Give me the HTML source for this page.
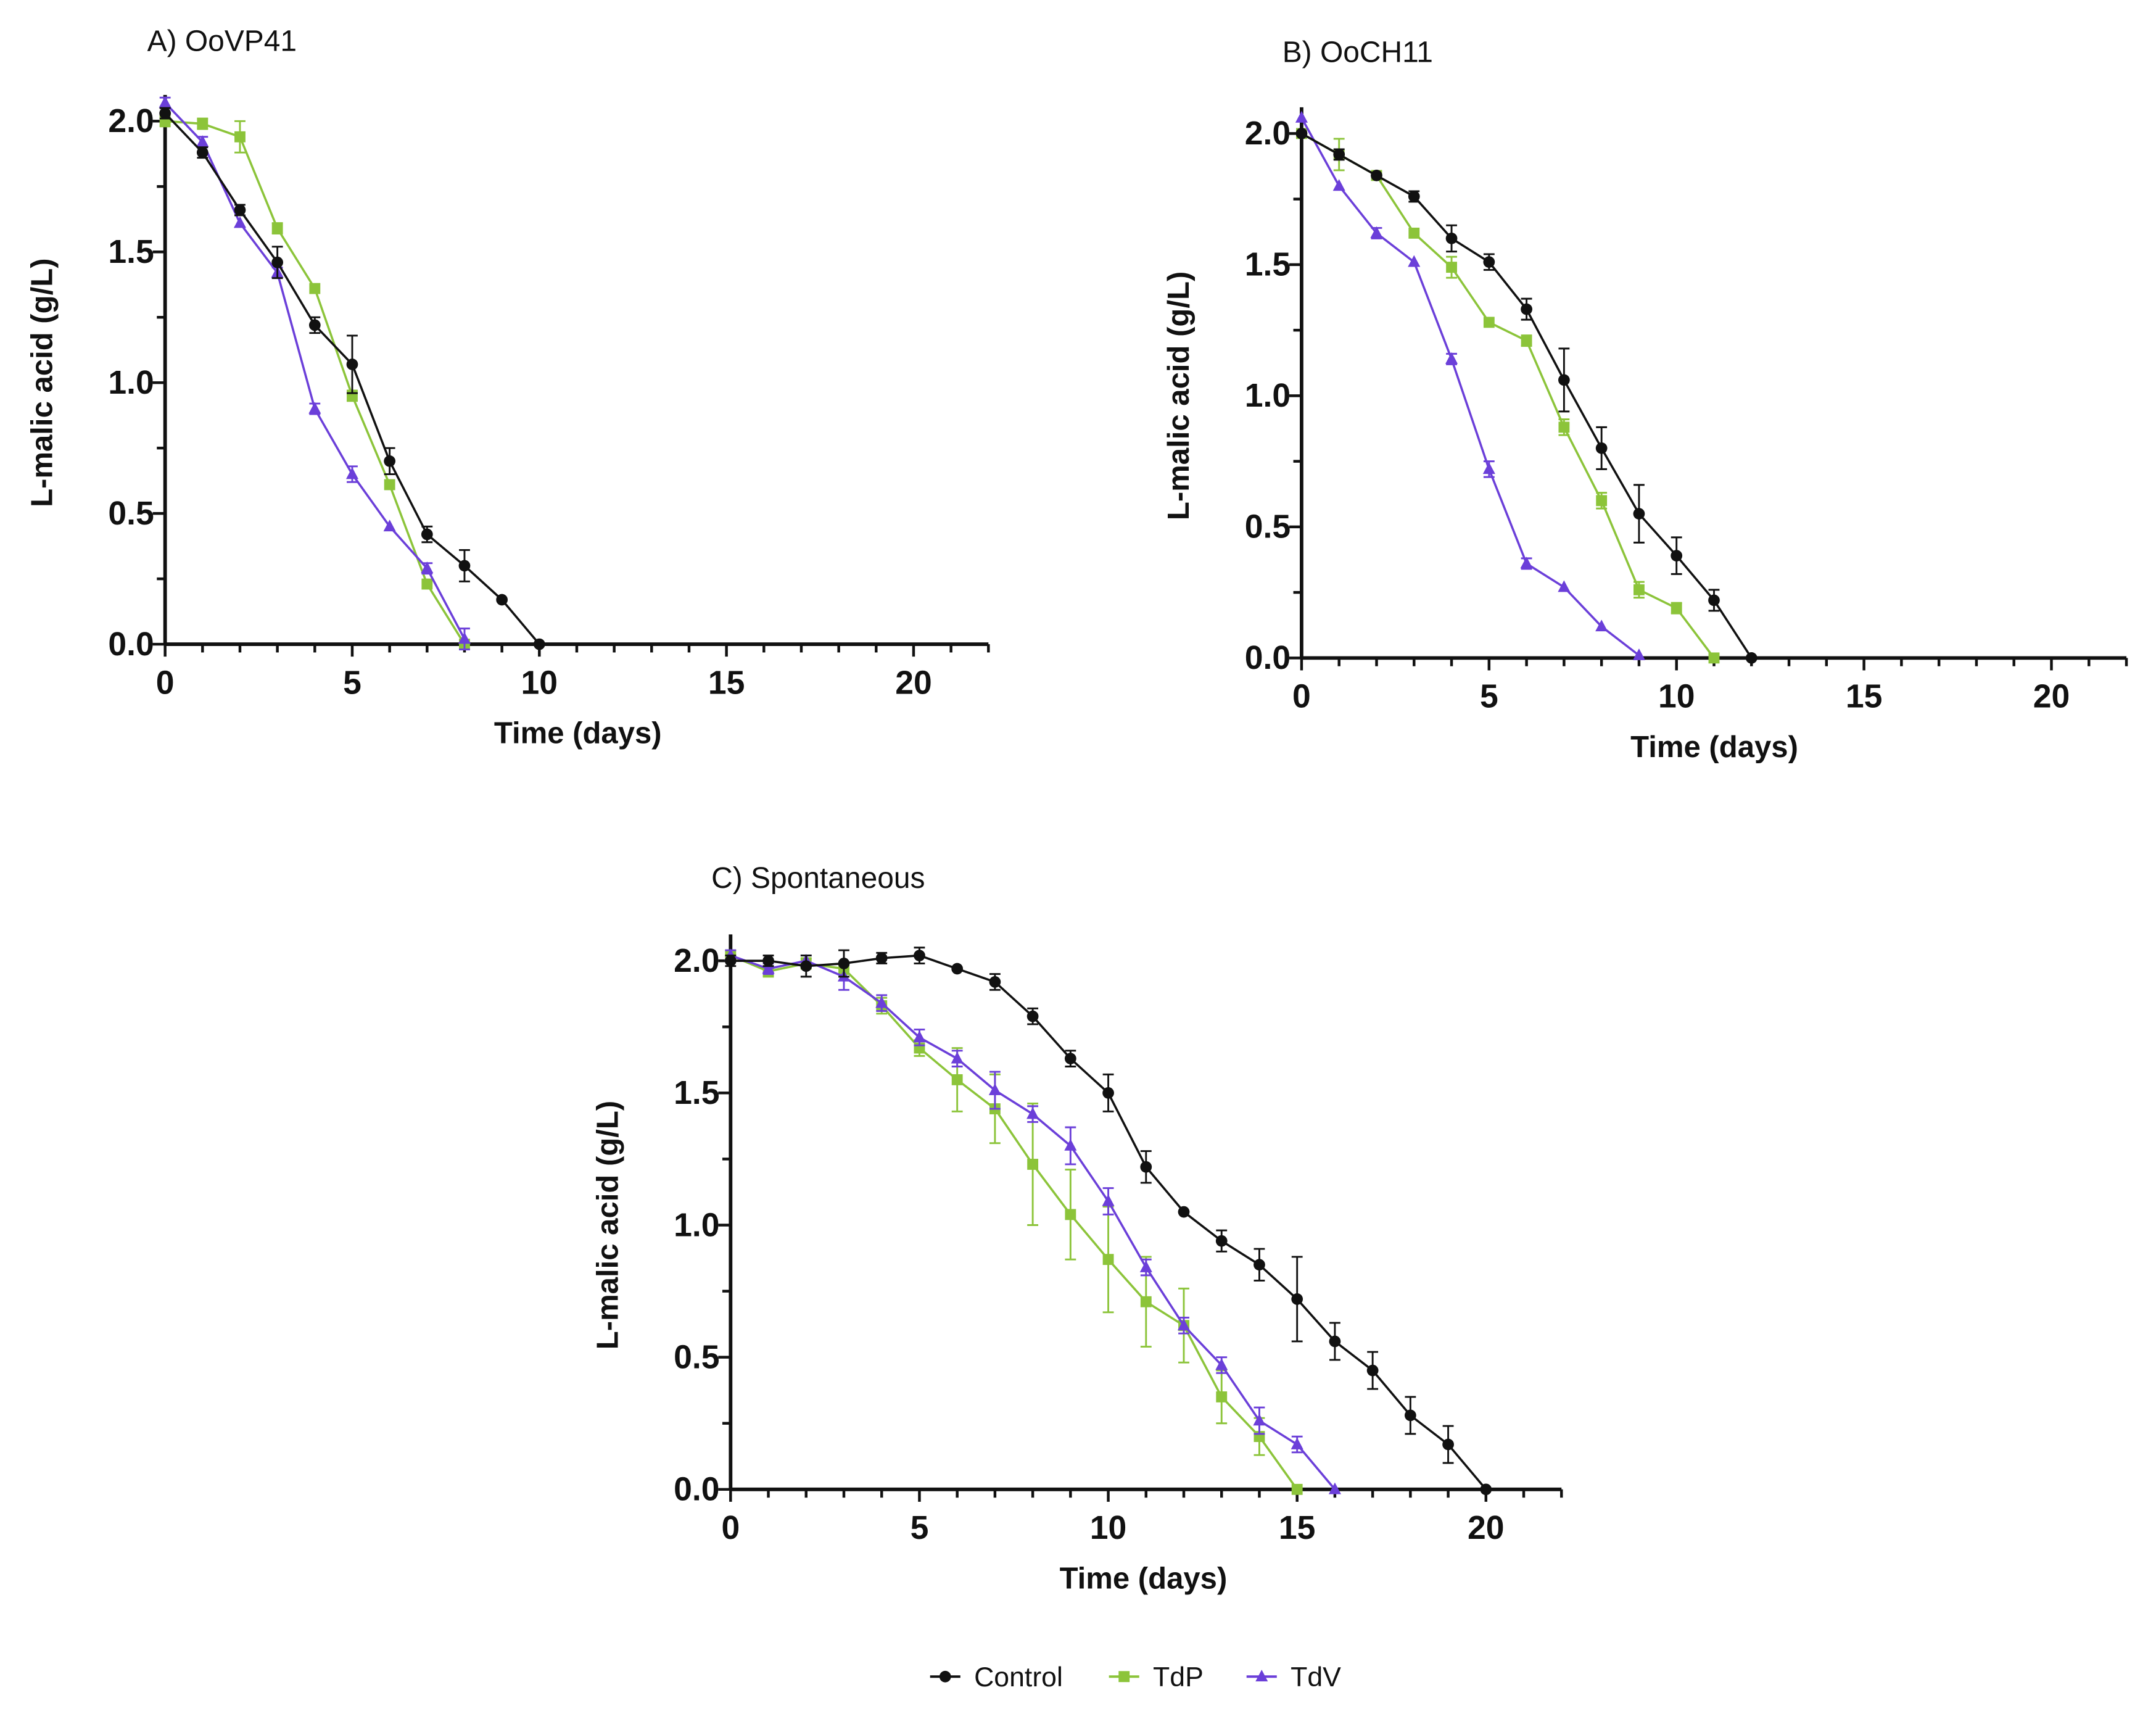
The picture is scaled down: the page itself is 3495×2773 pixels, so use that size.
<!DOCTYPE html>
<html><head><meta charset="utf-8"><style>
html,body{margin:0;padding:0;background:#fff}
svg{display:block}
text{font-family:"Liberation Sans",Arial,sans-serif}
</style></head><body>
<svg id="fig" width="3495" height="2773" viewBox="0 0 1567 1243" preserveAspectRatio="none" xmlns="http://www.w3.org/2000/svg"></svg>
<script>
// ---- data ----
const aControl=[2.03,1.88,1.66,1.46,1.22,1.07,0.70,0.42,0.30,0.17,0.00];
const aControlErr=[0.02,0.02,0.02,0.06,0.03,0.11,0.05,0.03,0.06,0.01,0];
const aTdP=[2.00,1.99,1.94,1.59,1.36,0.95,0.61,0.23,0.00];
const aTdPErr=[0.02,0.02,0.06,0.02,0.01,0.02,0.01,0.01,0];
const aTdV=[2.07,1.92,1.61,1.42,0.90,0.65,0.45,0.29,0.02];
const aTdVErr=[0.02,0.02,0.01,0.02,0.02,0.03,0.01,0.02,0.04];
const bControl=[2.00,1.92,1.84,1.76,1.60,1.51,1.33,1.06,0.80,0.55,0.39,0.22,0.00];
const bControlErr=[0.01,0.02,0.01,0.02,0.05,0.03,0.04,0.12,0.08,0.11,0.07,0.04,0];
const bTdP=[2.00,1.92,1.84,1.62,1.49,1.28,1.21,0.88,0.60,0.26,0.19,0.00];
const bTdPErr=[0.01,0.06,0.01,0.01,0.04,0.01,0.02,0.03,0.03,0.03,0.02,0];
const bTdV=[2.06,1.80,1.62,1.51,1.14,0.72,0.36,0.27,0.12,0.01];
const bTdVErr=[0.01,0.01,0.02,0.01,0.02,0.03,0.02,0.01,0.01,0.01];
const cControl=[2.00,2.00,1.98,1.99,2.01,2.02,1.97,1.92,1.79,1.63,1.50,1.22,1.05,0.94,0.85,0.72,0.56,0.45,0.28,0.17,0.00];
const cControlErr=[0.02,0.02,0.04,0.05,0.02,0.03,0.01,0.03,0.03,0.03,0.07,0.06,0.01,0.04,0.06,0.16,0.07,0.07,0.07,0.07,0];
const cTdP=[2.02,1.96,1.99,1.97,1.83,1.67,1.55,1.44,1.23,1.04,0.87,0.71,0.62,0.35,0.20,0.00];
const cTdPErr=[0.02,0.02,0.02,0.02,0.03,0.03,0.12,0.13,0.23,0.17,0.20,0.17,0.14,0.10,0.07,0];
const cTdV=[2.02,1.97,2.00,1.94,1.84,1.71,1.63,1.51,1.42,1.30,1.09,0.84,0.62,0.47,0.26,0.17,0.00];
const cTdVErr=[0.02,0.02,0.02,0.05,0.03,0.03,0.03,0.07,0.03,0.07,0.05,0.03,0.03,0.03,0.05,0.03,0];
const xTicks=[0,5,10,15,20];
const yTicks=[0.0,0.5,1.0,1.5,2.0];
const seriesNames=["Control","TdP","TdV"];
const colors={Control:"#111111",TdP:"#8cc43a",TdV:"#6b3fd9"};

const NS="http://www.w3.org/2000/svg";
const svg=document.getElementById('fig');
function mk(tag,attrs,parent){const e=document.createElementNS(NS,tag);for(const k in attrs)e.setAttribute(k,attrs[k]);(parent||svg).appendChild(e);return e;}

function marker(g,kind,x,y,c){
  let m;
  if(kind==="Control") m=mk('circle',{cx:x,cy:y,r:4.2,fill:c},g);
  else if(kind==="TdP") m=mk('rect',{x:x-4,y:y-4,width:8,height:8,fill:c},g);
  else m=mk('polygon',{points:`${x},${y-5} ${x+4.5},${y+3.5} ${x-4.5},${y+3.5}`,fill:c},g);
  return m;
}

function panel(cfg){
  const g=mk('g',{});
  
  
  const X=d=>cfg.x0+d*cfg.dx, Y=v=>cfg.y0-v*cfg.dy;
  const t=mk('text',{x:cfg.tx,y:cfg.ty,'font-size':21.5,fill:'#111'},g);t.textContent=cfg.title;
  
  const ax=mk('line',{x1:X(0),y1:Y(0),x2:X(22),y2:Y(0),stroke:'#111','stroke-width':2.6},g);
  
  const ay=mk('line',{x1:X(0),y1:Y(0),x2:X(0),y2:Y(2.1),stroke:'#111','stroke-width':2.6},g);
  
  for(let d=0;d<=22;d++){const L=(d%5===0)?9:6;mk('line',{x1:X(d),y1:Y(0),x2:X(d),y2:Y(0)+L,stroke:'#111','stroke-width':2},g);}
  for(let v=0;v<=8;v++){const L=(v%2===0)?9:6;mk('line',{x1:X(0)-L,y1:Y(v*0.25),x2:X(0),y2:Y(v*0.25),stroke:'#111','stroke-width':2},g);}
  xTicks.forEach(d=>{const e=mk('text',{x:X(d),y:Y(0)+36,'font-size':24,'font-weight':'bold','text-anchor':'middle',fill:'#111'},g);e.textContent=d;
    });
  yTicks.forEach(v=>{const e=mk('text',{x:X(0)-8,y:Y(v)+8,'font-size':24,'font-weight':'bold','text-anchor':'end',fill:'#111'},g);e.textContent=v.toFixed(1);
    });
  const xt=mk('text',{x:X(0)+300,y:Y(0)+72,'font-size':22,'font-weight':'bold','text-anchor':'middle',fill:'#111'},g);xt.textContent='Time (days)';
  
  const yx=X(0)-82, yy=Y(1.0);
  const yt=mk('text',{x:yx,y:yy,'font-size':22,'font-weight':'bold','text-anchor':'middle',fill:'#111',transform:`rotate(-90 ${yx} ${yy})`},g);yt.textContent='L-malic acid (g/L)';
  
  cfg.series.forEach(([name,vals,errs])=>{
    const c=colors[name];
    const sg=mk('g',{},g);
    
    
    mk('polyline',{points:vals.map((v,i)=>X(i)+','+Y(v)).join(' '),fill:'none',stroke:c,'stroke-width':1.6},sg);
    vals.forEach((v,i)=>{
      const e=errs[i];
      if(e>0.015){
        mk('line',{x1:X(i),y1:Y(v+e),x2:X(i),y2:Y(v-e),stroke:c,'stroke-width':1.3},sg);
        mk('line',{x1:X(i)-4,y1:Y(v+e),x2:X(i)+4,y2:Y(v+e),stroke:c,'stroke-width':1.3},sg);
        mk('line',{x1:X(i)-4,y1:Y(v-e),x2:X(i)+4,y2:Y(v-e),stroke:c,'stroke-width':1.3},sg);
      }
      const m=marker(sg,name,X(i),Y(v),c);
      
      
    });
  });
}

panel({name:'panel-a-oovp41',title:'A) OoVP41',tx:107,ty:37,x0:120,dx:27.2,y0:468,dy:190,
  series:[["TdP",aTdP,aTdPErr],["TdV",aTdV,aTdVErr],["Control",aControl,aControlErr]]});
panel({name:'panel-b-ooch11',title:'B) OoCH11',tx:932,ty:45,x0:946,dx:27.25,y0:478,dy:190.5,
  series:[["TdP",bTdP,bTdPErr],["TdV",bTdV,bTdVErr],["Control",bControl,bControlErr]]});
panel({name:'panel-c-spontaneous',title:'C) Spontaneous',tx:517,ty:645,x0:531,dx:27.45,y0:1082,dy:192,
  series:[["TdP",cTdP,cTdPErr],["TdV",cTdV,cTdVErr],["Control",cControl,cControlErr]]});

const lg=mk('g',{});


const lx=[676,806,906];
seriesNames.forEach((n,i)=>{
  const eg=mk('g',{},lg);
  
  
  const c=colors[n];
  mk('line',{x1:lx[i],y1:1218,x2:lx[i]+22,y2:1218,stroke:c,'stroke-width':1.8},eg);
  marker(eg,n,lx[i]+11,1218,c);
  const t=mk('text',{x:lx[i]+32,y:1225,'font-size':20,fill:'#111'},eg);t.textContent=n;
});
</script>
</body></html>
